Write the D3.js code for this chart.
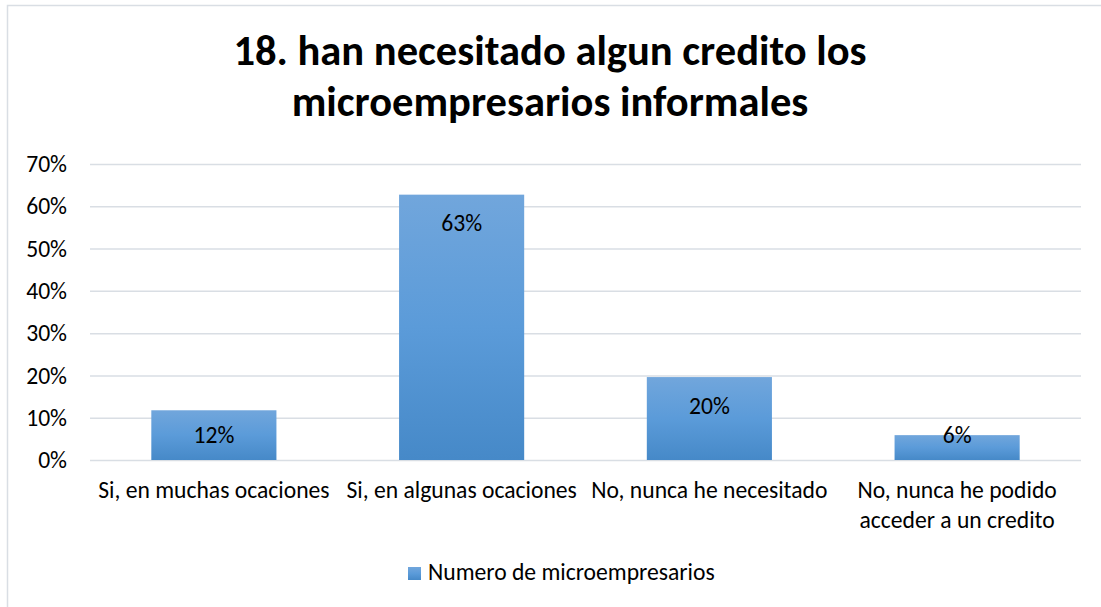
<!DOCTYPE html>
<html><head><meta charset="utf-8">
<script src="https://cdn.jsdelivr.net/npm/d3@7"></script>
<style>body{margin:0;background:#fff}svg{display:block}text{font-family:Carlito,Calibri,Lato,sans-serif;fill:#000}</style>
</head><body><svg id="c" width="1101" height="607"></svg>
<script>
const titleLines = ["18. han necesitado algun credito los", "microempresarios informales"];
const categories = [["Si, en muchas ocaciones"], ["Si, en algunas ocaciones"], ["No, nunca he necesitado"], ["No, nunca he podido", "acceder a un credito"]];
const values = [0.1176, 0.6275, 0.1961, 0.0588];
const seriesName = "Numero de microempresarios";
const yTicks = [0, 0.1, 0.2, 0.3, 0.4, 0.5, 0.6, 0.7];

const FF = "Carlito,Calibri,Lato,sans-serif";
const svg = d3.select("#c");
const defs = svg.append("defs");
const grad = defs.append("linearGradient").attr("id","g").attr("x1",0).attr("y1",0).attr("x2",0).attr("y2",1);
grad.append("stop").attr("offset","0%").attr("stop-color","#71a6dc");
grad.append("stop").attr("offset","50%").attr("stop-color","#5b9bd9");
grad.append("stop").attr("offset","100%").attr("stop-color","#4689c8");

svg.append("rect").attr("x",7.5).attr("y",5.5).attr("width",1200).attr("height",700)
  .attr("fill","#fff").attr("stroke","#d9dee4").attr("stroke-width",1.5);

// measure helper
function measure(t, fs, bold){
  const s = svg.append("text").attr("font-size",fs).attr("font-weight",bold?"bold":"normal").text(t);
  const L = s.node().getComputedTextLength(); s.remove(); return L;
}
// common body font size estimated from reference text widths
const refs = [["Si, en muchas ocaciones",230],["Si, en algunas ocaciones",233],["No, nunca he necesitado",238],["No, nunca he podido",178],["acceder a un credito",200],[seriesName,290],["70%",40],["63%",40]];
const ratios = refs.map(([t,w])=>w/measure(t,20,false)).sort((a,b)=>a-b);
const FS = 20*d3.median(ratios);
const titleFS = 36*d3.mean([[titleLines[0],633],[titleLines[1],517]].map(([t,w])=>w/measure(t,36,true)));

const m = {l:90, r:1081, t:164, b:460};
const x = d3.scaleBand().domain(d3.range(categories.length)).range([m.l, m.r]).paddingInner(0.495).paddingOuter(0.2475);
const y = d3.scaleLinear().domain([0,0.7]).range([m.b, m.t]);

// title
titleLines.forEach((t,i)=>{
  svg.append("text").attr("x",550).attr("y",[65,116][i]).attr("text-anchor","middle")
    .attr("font-weight","bold").attr("font-size",titleFS).text(t);
});

// gridlines + y axis
const yAxis = d3.axisLeft(y).tickValues(yTicks).tickFormat(d3.format(".0%")).tickSize(-(m.r-m.l)).tickPadding(23);
const ga = svg.append("g").attr("transform",`translate(${m.l},0)`).call(yAxis);
ga.select(".domain").remove();
ga.selectAll(".tick line").attr("stroke","#d9dee4").attr("stroke-width",1.5);
ga.selectAll(".tick text").attr("font-size",FS).attr("fill","#000").style("font-family",FF);

// bars
svg.selectAll("rect.bar").data(values).join("rect").attr("class","bar")
  .attr("x",(d,i)=>x(i)).attr("width",x.bandwidth())
  .attr("y",d=>y(d)).attr("height",d=>y(0)-y(d)).attr("fill","url(#g)");

// labels
svg.selectAll("text.lab").data(values).join("text").attr("class","lab")
  .attr("x",(d,i)=>x(i)+x.bandwidth()/2)
  .attr("y",d=>Math.min(y(d)+28.5, y(0)-25))
  .attr("dy","0.35em").attr("text-anchor","middle").attr("font-size",FS)
  .text(d=>d3.format(".0%")(d));

// category labels
categories.forEach((lines,i)=>{
  lines.forEach((t,j)=>{
    svg.append("text").attr("x",x(i)+x.bandwidth()/2).attr("y",498+j*30)
      .attr("text-anchor","middle").attr("font-size",FS).text(t);
  });
});

// legend
const lg = svg.append("g");
lg.append("rect").attr("x",408).attr("y",567).attr("width",13).attr("height",13).attr("fill","url(#g)");
lg.append("text").attr("x",428).attr("y",580).attr("font-size",FS).text(seriesName);
</script></body></html>
